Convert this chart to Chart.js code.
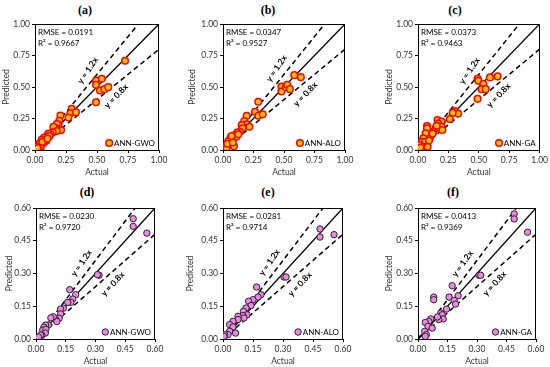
<!DOCTYPE html>
<html>
<head>
<meta charset="utf-8">
<script src="https://cdn.jsdelivr.net/npm/chart.js@4.4.1/dist/chart.umd.min.js"></script>
<style>
  body { margin: 0; width: 550px; height: 367px; background: #fff; position: relative; overflow: hidden; }
  canvas { position: absolute; }
  .tag { position: absolute; font: bold 12px "Liberation Serif", serif; color: #000; transform: translate(-50%, -50%); }
</style>
</head>
<body>
<script>
// tick values of the two rows
const topTicks = [0, 0.25, 0.5, 0.75, 1];
const bottomTicks = [0, 0.15, 0.3, 0.45, 0.6];
// reference lines y = 1x, 1.2x, 0.8x
const refSlopes = [1, 1.2, 0.8];

const modelNames = ['ANN-GWO', 'ANN-ALO', 'ANN-GA', 'ANN-GWO', 'ANN-ALO', 'ANN-GA'];
const rmseValues = ['0.0191', '0.0347', '0.0373', '0.0230', '0.0281', '0.0413'];
const r2Values = ['0.9667', '0.9527', '0.9463', '0.9720', '0.9714', '0.9369'];

// (a) ANN-GWO, top row
const aActual = [0.726, 0.492, 0.492, 0.538, 0.524, 0.559, 0.591, 0.492, 0.296, 0.285, 0.33, 0.27, 0.205, 0.196, 0.21, 0.19, 0.175, 0.165, 0.148, 0.175, 0.143, 0.126, 0.108, 0.095, 0.073, 0.089, 0.054, 0.04, 0.067, 0.027, 0.013, 0.046, 0.008, 0.03, 0.115, 0.06, 0.02, 0.1];
const aPredicted = [0.708, 0.552, 0.517, 0.565, 0.472, 0.483, 0.499, 0.379, 0.327, 0.292, 0.30, 0.258, 0.273, 0.232, 0.158, 0.20, 0.205, 0.175, 0.185, 0.15, 0.14, 0.126, 0.13, 0.106, 0.098, 0.071, 0.08, 0.055, 0.053, 0.04, 0.026, 0.02, 0.008, 0.006, 0.11, 0.065, 0.015, 0.09];
// (b) ANN-ALO
const bActual = [0.638, 0.584, 0.479, 0.479, 0.515, 0.526, 0.548, 0.289, 0.262, 0.289, 0.325, 0.194, 0.175, 0.194, 0.153, 0.216, 0.161, 0.139, 0.117, 0.098, 0.085, 0.063, 0.071, 0.044, 0.052, 0.016, 0.003, 0.03, 0.09, 0.11, 0.07, 0.035, 0.125, 0.08];
const bPredicted = [0.578, 0.594, 0.504, 0.464, 0.499, 0.517, 0.483, 0.383, 0.304, 0.272, 0.283, 0.272, 0.23, 0.204, 0.198, 0.185, 0.172, 0.145, 0.138, 0.119, 0.093, 0.098, 0.066, 0.071, 0.04, 0.026, 0.018, 0.013, 0.03, 0.105, 0.11, 0.05, 0.125, 0.06];
// (c) ANN-GA
const cActual = [0.654, 0.591, 0.49, 0.496, 0.537, 0.523, 0.556, 0.49, 0.303, 0.33, 0.285, 0.262, 0.161, 0.194, 0.167, 0.194, 0.20, 0.145, 0.153, 0.126, 0.107, 0.079, 0.074, 0.074, 0.063, 0.098, 0.044, 0.03, 0.057, 0.016, 0.044, 0.079, 0.008, 0.12, 0.09, 0.02];
const cPredicted = [0.584, 0.576, 0.565, 0.549, 0.523, 0.483, 0.483, 0.406, 0.31, 0.29, 0.295, 0.246, 0.238, 0.226, 0.21, 0.185, 0.159, 0.172, 0.193, 0.145, 0.119, 0.106, 0.19, 0.172, 0.132, 0.093, 0.093, 0.066, 0.066, 0.04, 0.026, 0.026, 0.013, 0.13, 0.075, 0.02];
// (d) ANN-GWO, bottom row
const dActual = [0.49, 0.49, 0.559, 0.318, 0.31, 0.17, 0.2, 0.185, 0.176, 0.16, 0.138, 0.124, 0.124, 0.117, 0.101, 0.105, 0.087, 0.075, 0.062, 0.048, 0.04, 0.034, 0.05, 0.047, 0.03, 0.024, 0.013];
const dPredicted = [0.551, 0.516, 0.485, 0.292, 0.295, 0.226, 0.203, 0.183, 0.168, 0.168, 0.141, 0.137, 0.115, 0.095, 0.087, 0.08, 0.102, 0.097, 0.064, 0.064, 0.054, 0.041, 0.044, 0.027, 0.017, 0.018, 0.009];
// (e) ANN-ALO
const eActual = [0.485, 0.485, 0.555, 0.305, 0.315, 0.168, 0.19, 0.175, 0.15, 0.128, 0.14, 0.115, 0.102, 0.12, 0.1, 0.105, 0.075, 0.075, 0.05, 0.033, 0.05, 0.033, 0.063, 0.025, 0.008, 0.005];
const ePredicted = [0.504, 0.467, 0.478, 0.284, 0.284, 0.238, 0.203, 0.192, 0.18, 0.173, 0.153, 0.142, 0.127, 0.111, 0.107, 0.096, 0.104, 0.089, 0.081, 0.066, 0.055, 0.035, 0.027, 0.02, 0.02, 0.012];
// (f) ANN-GA
const fActual = [0.489, 0.489, 0.557, 0.31, 0.319, 0.174, 0.08, 0.08, 0.204, 0.158, 0.184, 0.191, 0.145, 0.116, 0.123, 0.128, 0.106, 0.099, 0.065, 0.055, 0.037, 0.051, 0.072, 0.034, 0.043, 0.037];
const fPredicted = [0.573, 0.55, 0.489, 0.292, 0.292, 0.244, 0.192, 0.18, 0.198, 0.192, 0.177, 0.16, 0.137, 0.119, 0.111, 0.092, 0.089, 0.101, 0.092, 0.081, 0.076, 0.058, 0.05, 0.035, 0.02, 0.012];

const FONT = 'Lato';
const TXT = '#333';
const markerTop = { fill: '#FFC000', line: '#FF0000', width: 1.5, r: 3.3 };
const markerBottom = { fill: '#EE88E6', line: '#262626', width: 1, r: 3.2 };

// plot box (left, top, right, bottom); line labels: [distance along line, angle in degrees]
const panels = [
  { tag: '(a)', tagXY: [85, 10], box: [35, 24, 159, 150], titleX: 6, actual: aActual, pred: aPredicted, ticks: topTicks, mk: markerTop, k12: [95, -56], k08: [97, -46] },
  { tag: '(b)', tagXY: [268, 10], box: [223, 24, 345, 150], titleX: 192, actual: bActual, pred: bPredicted, ticks: topTicks, mk: markerTop, k12: [97, -56], k08: [99, -46] },
  { tag: '(c)', tagXY: [455, 10], box: [418, 24, 540, 150], titleX: 389, actual: cActual, pred: cPredicted, ticks: topTicks, mk: markerTop, k12: [94, -56], k08: [97, -46] },
  { tag: '(d)', tagXY: [87, 192], box: [36, 208, 155, 339], titleX: 9, actual: dActual, pred: dPredicted, ticks: bottomTicks, mk: markerBottom, k12: [88, -55], k08: [94, -47] },
  { tag: '(e)', tagXY: [268, 192], box: [223, 208, 343, 339], titleX: 190, actual: eActual, pred: ePredicted, ticks: bottomTicks, mk: markerBottom, k12: [89, -55], k08: [94, -47] },
  { tag: '(f)', tagXY: [453, 192], box: [418, 208, 536, 339], titleX: 389, actual: fActual, pred: fPredicted, ticks: bottomTicks, mk: markerBottom, k12: [87, -55], k08: [94, -47] }
];

// text, frame and legend drawn over the plot area
const overlay = {
  id: 'overlay',
  afterDatasetsDraw(chart, args, o) {
    const { ctx, chartArea: a, scales: { x, y } } = chart;
    const max = o.max;
    ctx.save();
    ctx.strokeStyle = '#000';
    ctx.lineWidth = 1;
    ctx.beginPath();
    ctx.moveTo(Math.round(a.left) + 0.5, Math.round(a.top) + 0.5);
    ctx.lineTo(Math.round(a.right) - 0.5, Math.round(a.top) + 0.5);
    ctx.lineTo(Math.round(a.right) - 0.5, Math.round(a.bottom) + 0.5);
    ctx.stroke();

    ctx.fillStyle = '#000';
    ctx.font = '8px ' + FONT;
    ctx.textBaseline = 'middle';
    ctx.textAlign = 'left';
    ctx.fillText('RMSE = ' + o.rmse, a.left + 3, a.top + 8.5);
    ctx.fillText('R² = ' + o.r2, a.left + 3, a.top + 19);

    // rotated line labels, set off the dashed line (1.2x above, 0.8x below)
    ctx.font = 'bold 8.5px ' + FONT;
    ctx.textAlign = 'center';
    const x0 = x.getPixelForValue(0), y0 = y.getPixelForValue(0);
    [['y = 1.2x', 1.2, o.k12, -1], ['y = 0.8x', 0.8, o.k08, 1]].forEach(([t, s, k, side]) => {
      let dx = x.getPixelForValue(max / 2) - x0;
      let dy = y.getPixelForValue(s * max / 2) - y0;
      const len = Math.hypot(dx, dy);
      dx /= len; dy /= len;
      const off = 9.5;
      const px = x0 + dx * k[0] - dy * off * side;
      const py = y0 + dy * k[0] + dx * off * side;
      ctx.save();
      ctx.translate(px, py);
      ctx.rotate(k[1] * Math.PI / 180);
      ctx.fillText(t, 0, 0);
      ctx.restore();
    });

    // legend at lower right
    ctx.font = '8px ' + FONT;
    ctx.textAlign = 'right';
    const ly = a.bottom - 7;
    const tx = a.right - 4;
    const w = ctx.measureText(o.label).width;
    ctx.fillText(o.label, tx, ly);
    ctx.beginPath();
    ctx.arc(tx - w - 1.5 - o.mk.r, ly, o.mk.r, 0, Math.PI * 2);
    ctx.fillStyle = o.mk.fill;
    ctx.fill();
    ctx.lineWidth = o.mk.width;
    ctx.strokeStyle = o.mk.line;
    ctx.stroke();
    ctx.restore();
  }
};

function axis(ticks, title, fit) {
  return {
    type: 'linear',
    min: ticks[0],
    max: ticks[ticks.length - 1],
    afterBuildTicks: s => { s.ticks = ticks.map(v => ({ value: v })); },
    afterFit: fit,
    ticks: { font: { family: FONT, size: 8.5 }, color: TXT, padding: 2, maxRotation: 0, callback: v => Number(v).toFixed(2) },
    grid: { drawOnChartArea: false, tickLength: 3, color: '#000' },
    border: { color: '#000', width: 1 },
    title: { display: true, text: title, font: { family: FONT, size: 8.5 }, color: TXT, padding: 0 }
  };
}

panels.forEach((p, i) => {
  const tag = document.createElement('div');
  tag.className = 'tag';
  tag.textContent = p.tag;
  tag.style.left = p.tagXY[0] + 'px';
  tag.style.top = p.tagXY[1] + 'px';
  document.body.appendChild(tag);

  const [L, T, R, B] = p.box;
  const left = Math.round(p.titleX - 5);
  const top = T - 8;
  const xh = 27;
  const rightPad = Math.min(12, 550 - R);
  const cv = document.createElement('canvas');
  cv.width = R - left + rightPad;
  cv.height = B - top + xh;
  cv.style.left = left + 'px';
  cv.style.top = top + 'px';
  document.body.appendChild(cv);

  const max = p.ticks[p.ticks.length - 1];
  const lines = refSlopes.map(s => ({
    type: 'scatter',
    showLine: true,
    data: [{ x: 0, y: 0 }, { x: Math.min(max, max / s), y: Math.min(max, s * max) }],
    borderColor: '#000',
    borderWidth: s === 1 ? 1.3 : 1.5,
    borderDash: s === 1 ? [] : [5, 3.5],
    pointRadius: 0
  }));

  new Chart(cv, {
    type: 'scatter',
    data: {
      datasets: [{
        label: modelNames[i],
        data: p.actual.map((v, j) => ({ x: v, y: p.pred[j] })),
        backgroundColor: p.mk.fill,
        borderColor: p.mk.line,
        borderWidth: p.mk.width,
        pointRadius: p.mk.r
      }, ...lines]
    },
    options: {
      responsive: false,
      animation: false,
      layout: { padding: { top: 8, right: rightPad, left: 0, bottom: 0 } },
      scales: {
        x: axis(p.ticks, 'Actual', s => { s.height = xh; }),
        y: axis(p.ticks, 'Predicted', s => { s.width = L - left; })
      },
      plugins: {
        legend: { display: false },
        tooltip: { enabled: false },
        overlay: { max, rmse: rmseValues[i], r2: r2Values[i], label: modelNames[i], mk: p.mk, k12: p.k12, k08: p.k08 }
      }
    },
    plugins: [overlay]
  });
});
</script>
</body>
</html>
